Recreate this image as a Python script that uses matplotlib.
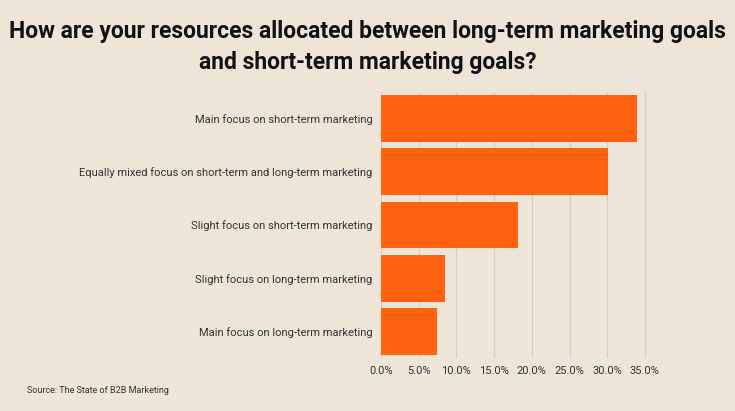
import matplotlib
matplotlib.use("Agg")
import matplotlib.pyplot as plt

categories = ["Main focus on short-term marketing",
              "Equally mixed focus on short-term and long-term marketing",
              "Slight focus on short-term marketing",
              "Slight focus on long-term marketing",
              "Main focus on long-term marketing"]
values = [34.0, 30.1, 18.2, 8.5, 7.4]
ticks = [0, 5, 10, 15, 20, 25, 30, 35]

bg = "#EEE4D7"
fig = plt.figure(figsize=(7.35, 4.11), dpi=100, facecolor=bg)
ax = fig.add_axes([381/735, 1-358/411, (660-381)/735, (358-92)/411], facecolor=bg)
y = list(range(len(categories)))
ax.barh(y, values, height=0.88, color="#FF6211", zorder=3)
ax.set_ylim(len(categories)-0.5, -0.5)
ax.set_xlim(0, 37)
ax.set_xticks(ticks)
ax.set_xticklabels([f"{t:.1f}%" for t in ticks], fontsize=8, color="#333333", family="Roboto")
ax.set_yticks(y)
ax.set_yticklabels(categories, fontsize=8, color="#333333", family="Roboto")
ax.tick_params(length=0, pad=6)
ax.grid(axis="x", color="#D6CCBF", linewidth=0.8, zorder=0)
for s in ax.spines.values():
    s.set_visible(False)
fig.text(0.5, 1-47/411, "How are your resources allocated between long-term marketing goals\nand short-term marketing goals?",
         ha="center", va="center", fontsize=16.5, fontweight="bold", family="Roboto", color="#111111", linespacing=1.45)
fig.text(27/735, 1-390/411, "Source: The State of B2B Marketing", fontsize=6.5, color="#333333", family="Roboto", va="center")
fig.savefig("out.png", dpi=100, facecolor=bg)
